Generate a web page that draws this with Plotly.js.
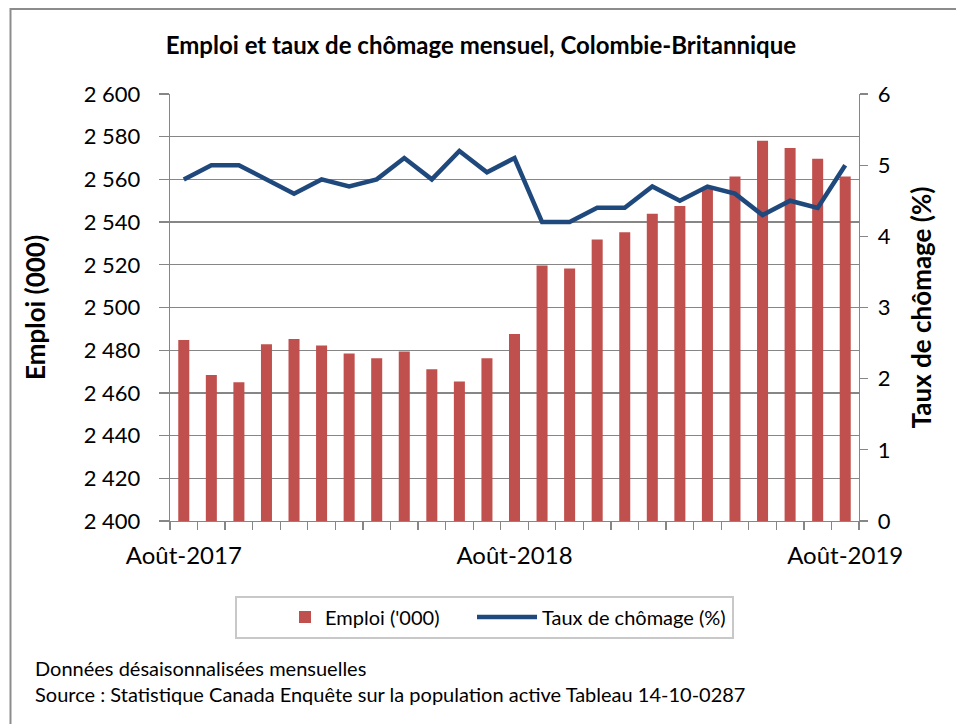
<!DOCTYPE html>
<html><head><meta charset="utf-8">
<script src="https://cdn.plot.ly/plotly-3.0.1.min.js"></script>
<style>body{margin:0;background:#fff}#chart{width:956px;height:724px}</style>
</head><body><div id="chart"></div>
<script>
const months = ["Août-2017","Sept-2017","Oct-2017","Nov-2017","Déc-2017","Janv-2018","Févr-2018","Mars-2018","Avr-2018","Mai-2018","Juin-2018","Juil-2018","Août-2018","Sept-2018","Oct-2018","Nov-2018","Déc-2018","Janv-2019","Févr-2019","Mars-2019","Avr-2019","Mai-2019","Juin-2019","Juil-2019","Août-2019"];
const emploi = [2484.8,2468.4,2465.0,2482.8,2485.3,2482.2,2478.4,2476.2,2479.4,2471.1,2465.3,2476.2,2487.6,2519.7,2518.3,2531.9,2535.3,2543.9,2547.5,2555.5,2561.4,2578.1,2574.7,2569.7,2561.4];
const taux = [4.8,5.0,5.0,4.8,4.6,4.8,4.7,4.8,5.1,4.8,5.2,4.9,5.1,4.2,4.2,4.4,4.4,4.7,4.5,4.7,4.6,4.3,4.5,4.4,5.0];
const shownTicks = ["Août-2017","Août-2018","Août-2019"];
const tickText = months.map(m => shownTicks.includes(m) ? m : "");

const FONT = "Lato, 'Open Sans', sans-serif";
const AX = "#868686";

const traces = [
  {type:"bar", x:months, y:emploi, name:"Emploi ('000)", marker:{color:"#C0504D"}, yaxis:"y", legend:"legend"},
  {type:"scatter", mode:"lines", x:months, y:taux, name:"Taux de chômage (%)", line:{color:"#1F497D", width:4.5}, yaxis:"y2", legend:"legend2"}
];

// plot area in px: x 170..859, y 94..521
const px = v => (v - 170) / 689;
const py = v => (521 - v) / 427;

const layout = {
  width:956, height:724,
  margin:{l:170, r:97, t:94, b:203},
  paper_bgcolor:"#fff", plot_bgcolor:"#fff",
  font:{family:FONT, color:"#000", size:22},
  separators:", ",
  bargap:0.6,
  showlegend:true,
  title:{text:"<b>Emploi et taux de chômage mensuel, Colombie-Britannique</b>", font:{size:24, family:FONT}, x:0.503, xref:"container", xanchor:"center", y:1-46/724, yref:"container", yanchor:"middle"},
  xaxis:{type:"category", tickvals:months, ticktext:tickText, tickson:"boundaries", ticks:"outside", ticklen:8, tickcolor:AX, tickwidth:1.3,
         ticklabelstandoff:13,
         showline:true, linecolor:AX, linewidth:1.3, showgrid:false, tickangle:0, tickfont:{size:24}, fixedrange:true},
  yaxis:{range:[2400,2600], dtick:20, tickformat:",d", ticks:"outside", ticklen:10, tickcolor:AX, tickwidth:1.3,
         ticklabelstandoff:14,
         showline:true, linecolor:AX, linewidth:1.3, gridcolor:AX, gridwidth:1.3, zeroline:false,
         tickfont:{size:22}, title:{text:"<b>Emploi (000)</b>", font:{size:26}, standoff:30}},
  yaxis2:{overlaying:"y", side:"right", range:[0,6], dtick:1, ticks:"outside", ticklen:8, tickcolor:AX, tickwidth:1.3,
          ticklabelstandoff:5,
          showline:true, linecolor:AX, linewidth:1.3, showgrid:false, zeroline:false,
          tickfont:{size:22}, title:{text:"<b>Taux de chômage (%)</b>", font:{size:26}, standoff:23}},
  legend:{orientation:"h", x:px(285), xanchor:"left", y:py(617), yanchor:"middle", borderwidth:0, bgcolor:"rgba(0,0,0,0)",
          font:{size:20}, itemwidth:30},
  legend2:{orientation:"h", x:px(472), xanchor:"left", y:py(617), yanchor:"middle", borderwidth:0, bgcolor:"rgba(0,0,0,0)",
          font:{size:20}, itemwidth:60},
  annotations:[
    {text:"Données désaisonnalisées mensuelles", xref:"paper", yref:"paper", x:-0.1988, y:-0.344, xanchor:"left", yanchor:"middle", showarrow:false, font:{size:20}},
    {text:"Source : Statistique Canada Enquête sur la population active Tableau 14-10-0287", xref:"paper", yref:"paper", x:-0.1988, y:-0.405, xanchor:"left", yanchor:"middle", showarrow:false, font:{size:20}}
  ],
  shapes:[
    {type:"rect", xref:"paper", yref:"paper", x0:-0.2315, x1:1.18, y0:-0.53, y1:1.199, line:{color:"#8c8c8c", width:2}, fillcolor:"rgba(0,0,0,0)", layer:"below"},
    {type:"rect", xref:"paper", yref:"paper", x0:px(236), x1:px(733), y0:py(638), y1:py(597), line:{color:"#c8c8c8", width:2}, fillcolor:"rgba(0,0,0,0)", layer:"below"}
  ]
};

Plotly.newPlot("chart", traces, layout, {displayModeBar:false, staticPlot:true});
</script>
</body></html>
